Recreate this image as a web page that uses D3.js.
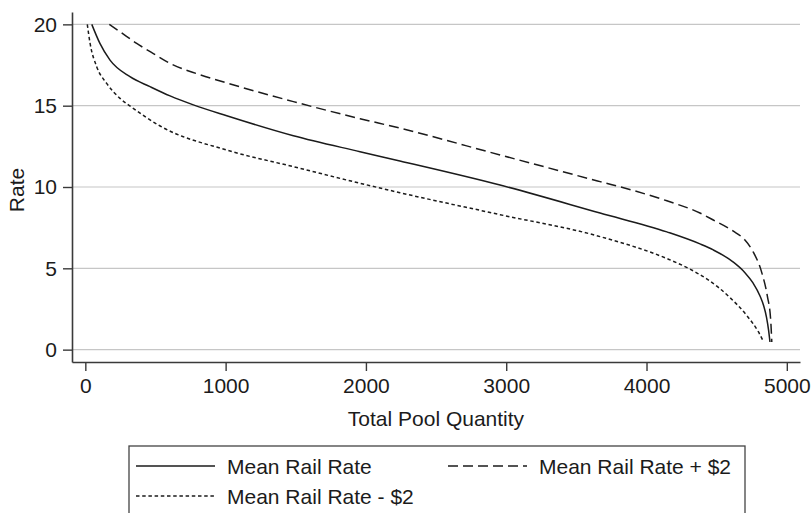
<!DOCTYPE html>
<html>
<head>
<meta charset="utf-8">
<script src="https://cdn.jsdelivr.net/npm/d3@7"></script>
<style>
  html, body { margin: 0; padding: 0; background: #fff; }
  svg { display: block; font-family: "Liberation Sans", Arial, sans-serif; }
</style>
</head>
<body>
<svg id="chart" width="811" height="513"></svg>
<script>
// Total pool quantity (x) vs rate (y) for each rate scenario
const meanQty  = [46, 104, 176, 318, 461, 604, 770, 1008, 1483, 1958, 2242, 2956, 3669, 4145, 4381, 4476, 4616, 4700, 4759, 4809, 4835, 4855, 4870, 4880];
const meanRate = [20, 18.83, 17.8, 16.78, 16.17, 15.6, 15.05, 14.38, 13.15, 12.17, 11.6, 10.12, 8.4, 7.24, 6.5, 6.13, 5.4, 4.75, 4.1, 3.3, 2.7, 2.0, 1.2, 0.47];

const plusQty  = [171, 247, 366, 485, 604, 800, 1008, 1483, 1958, 2242, 2956, 3669, 3900, 4145, 4381, 4476, 4616, 4700, 4761, 4821, 4861, 4885, 4893];
const plusRate = [20, 19.55, 18.83, 18.2, 17.6, 16.95, 16.4, 15.25, 14.2, 13.62, 11.97, 10.33, 9.8, 9.15, 8.4, 7.97, 7.3, 6.75, 6.0, 4.75, 3.3, 1.83, 0.47];

const minusQty  = [14, 34, 81, 152, 247, 331, 533, 1008, 1483, 1958, 2242, 2956, 3669, 4145, 4310, 4429, 4595, 4714, 4797, 4835];
const minusRate = [20, 18.83, 17.4, 16.37, 15.45, 14.9, 13.75, 12.27, 11.25, 10.23, 9.65, 8.3, 6.95, 5.6, 4.95, 4.35, 3.2, 2.1, 1.1, 0.47];

const xTicks = [0, 1000, 2000, 3000, 4000, 5000];
const yTicks = [0, 5, 10, 15, 20];

const seriesNames = ["Mean Rail Rate", "Mean Rail Rate + $2", "Mean Rail Rate - $2"];

const series = [
  { name: seriesNames[0], q: meanQty,  r: meanRate,  dash: null },
  { name: seriesNames[1], q: plusQty,  r: plusRate,  dash: "10,5" },
  { name: seriesNames[2], q: minusQty, r: minusRate, dash: "3.5,2.7" }
];

const svg = d3.select("#chart");
const ink = "#1b1b1b";
const fontSize = 21;

const x = d3.scaleLinear().domain([-95, 5094]).range([72, 800]);
const y = d3.scaleLinear().domain([-0.76, 20.76]).range([362, 12]);

// horizontal grid
svg.append("g")
  .selectAll("line")
  .data(yTicks)
  .join("line")
  .attr("x1", 72).attr("x2", 800)
  .attr("y1", d => y(d)).attr("y2", d => y(d))
  .attr("stroke", "#c6c6c6").attr("stroke-width", 1.2);

// axes
const yAxis = svg.append("g")
  .attr("transform", "translate(72,0)")
  .call(d3.axisLeft(y).tickValues(yTicks).tickSizeInner(9).tickSizeOuter(0).tickPadding(6).tickFormat(d3.format("d")));
const xAxis = svg.append("g")
  .attr("transform", "translate(0,362)")
  .call(d3.axisBottom(x).tickValues(xTicks).tickSizeInner(9).tickSizeOuter(0).tickPadding(7).tickFormat(d3.format("d")));

[yAxis, xAxis].forEach(g => {
  g.select(".domain").attr("stroke", "#3a3a3a").attr("stroke-width", 1.6);
  g.selectAll(".tick line").attr("stroke", "#3a3a3a").attr("stroke-width", 1.4);
  g.selectAll(".tick text").attr("fill", ink).style("font-size", fontSize + "px")
    .style("font-family", "'Liberation Sans', Arial, sans-serif");
});

// axis titles
svg.append("text")
  .attr("x", 436).attr("y", 418)
  .attr("text-anchor", "middle").attr("dominant-baseline", "central")
  .attr("fill", ink).style("font-size", fontSize + "px")
  .text("Total Pool Quantity");

svg.append("text")
  .attr("transform", "translate(16,190) rotate(-90)")
  .attr("text-anchor", "middle").attr("dominant-baseline", "central")
  .attr("fill", ink).style("font-size", fontSize + "px")
  .text("Rate");

// curves
const line = d3.line()
  .x(d => x(d[0])).y(d => y(d[1]))
  .curve(d3.curveMonotoneX);

series.forEach(s => {
  const pts = s.q.map((q, i) => [q, s.r[i]]);
  svg.append("path")
    .datum(pts)
    .attr("d", line)
    .attr("fill", "none")
    .attr("stroke", ink)
    .attr("stroke-width", 1.5)
    .attr("stroke-dasharray", s.dash);
});

// legend
const legend = svg.append("g");
legend.append("rect")
  .attr("x", 129).attr("y", 446).attr("width", 616).attr("height", 90)
  .attr("fill", "none").attr("stroke", "#444").attr("stroke-width", 1.3);

const legendPos = [
  { x: 136, y: 466 },
  { x: 448, y: 466 },
  { x: 136, y: 496 }
];

series.forEach((s, i) => {
  const p = legendPos[i];
  legend.append("line")
    .attr("x1", p.x).attr("x2", p.x + 79)
    .attr("y1", p.y).attr("y2", p.y)
    .attr("stroke", ink).attr("stroke-width", 1.5)
    .attr("stroke-dasharray", s.dash);
  legend.append("text")
    .attr("x", p.x + 91).attr("y", p.y)
    .attr("dominant-baseline", "central")
    .attr("fill", ink).style("font-size", fontSize + "px")
    .text(s.name);
});
</script>
</body>
</html>
